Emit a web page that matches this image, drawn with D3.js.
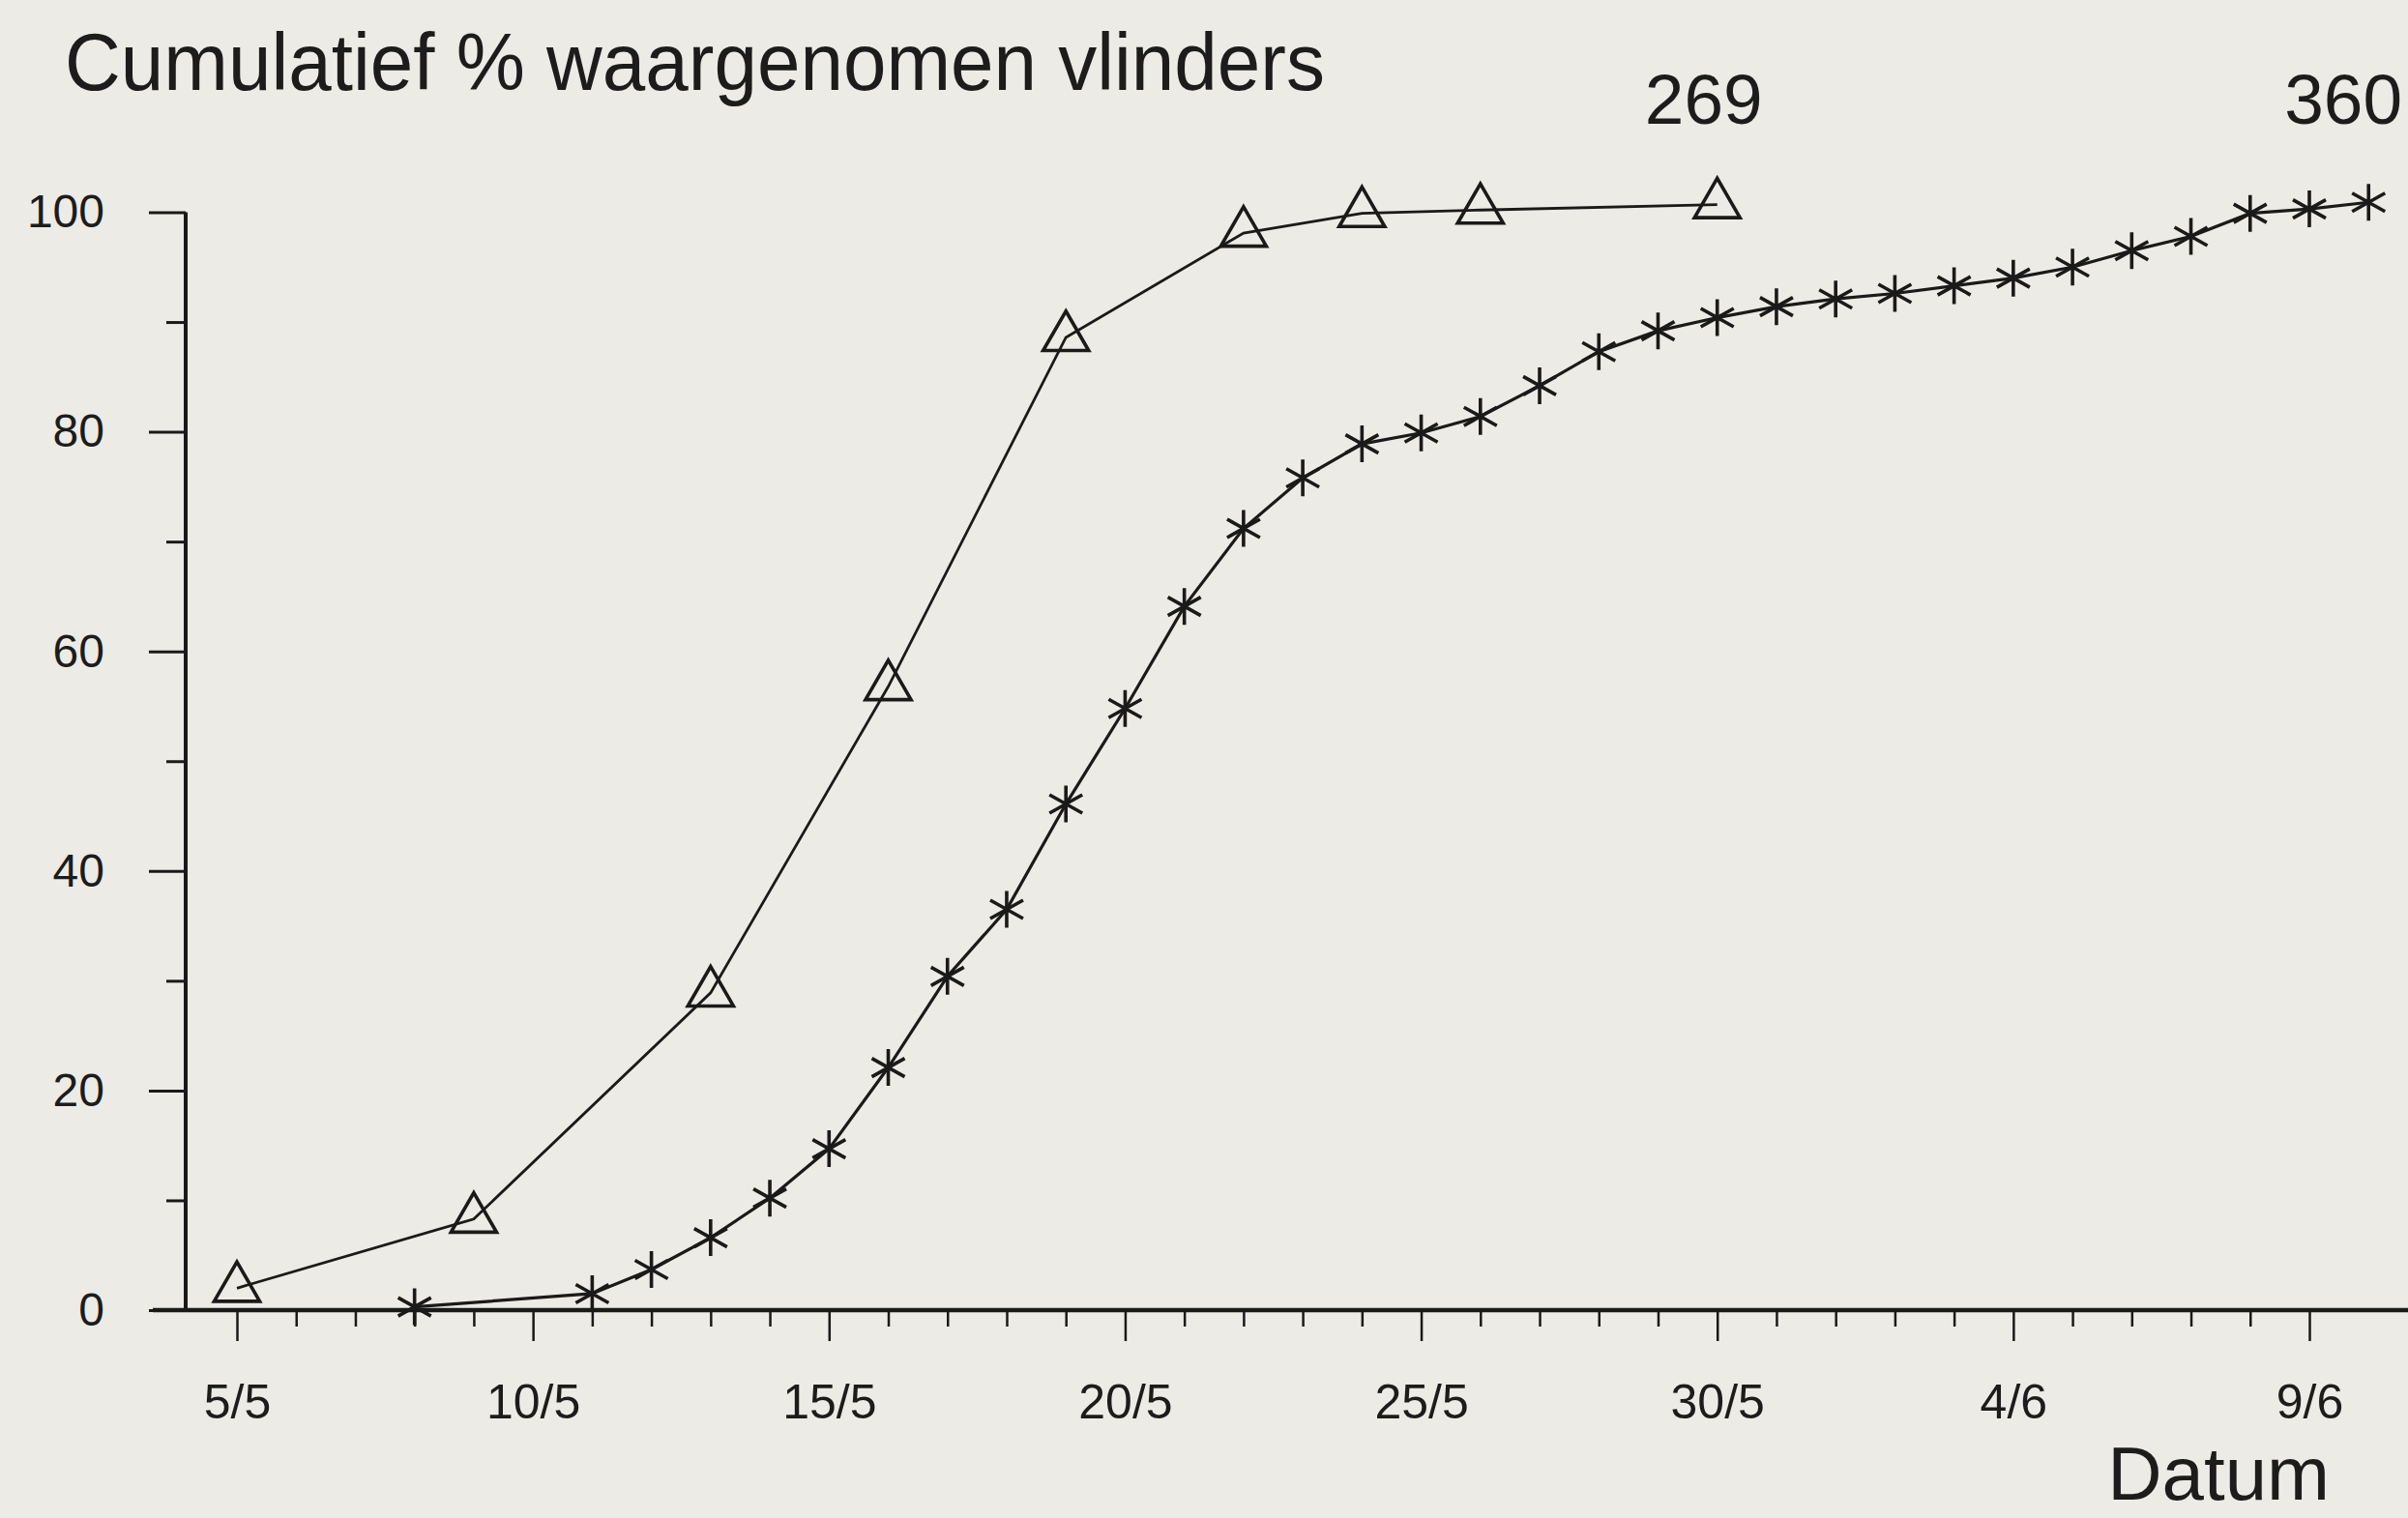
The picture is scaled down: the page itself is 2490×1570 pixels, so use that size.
<!DOCTYPE html>
<html>
<head>
<meta charset="utf-8">
<script src="https://cdn.jsdelivr.net/npm/d3@7"></script>
<style>
  html, body { margin: 0; padding: 0; background: #ecebe5; }
  svg { display: block; }
  text { font-family: "Liberation Sans", Arial, Helvetica, sans-serif; fill: #1c1c1c; }
</style>
</head>
<body>
<svg id="chart" width="2490" height="1570"></svg>
<script>
// ---- data ----
const titleText = "Cumulatief % waargenomen vlinders";
const xAxisTitle = "Datum";
const xTickDays = [5, 10, 15, 20, 25, 30, 35, 40];
const xTickLabels = ["5/5", "10/5", "15/5", "20/5", "25/5", "30/5", "4/6", "9/6"];
const yTickValues = [0, 20, 40, 60, 80, 100];

// series A (triangles), total 269
const triDays   = [5, 9, 13, 16, 19, 22, 24, 26, 30];
const triValues = [2.0, 8.3, 28.9, 56.8, 88.6, 98.1, 99.9, 100.2, 100.7];
const triTotal = 269;

// series B (asterisks), total 360 (day numbers counted from 1 May: 32 = 1/6)
const starDays   = [8, 11, 12, 13, 14, 15, 16, 17, 18, 19, 20, 21, 22, 23, 24, 25, 26, 27, 28, 29, 30, 31, 32, 33, 34, 35, 36, 37, 38, 39, 40, 41];
const starValues = [0.3, 1.5, 3.7, 6.6, 10.2, 14.7, 22.1, 30.4, 36.5, 46.1, 54.8, 64.1, 71.2, 75.8, 78.9, 79.9, 81.4, 84.2, 87.3, 89.2, 90.4, 91.4, 92.1, 92.6, 93.3, 94.0, 95.0, 96.5, 97.8, 99.9, 100.3, 100.9];
const starTotal = 360;

// ---- layout ----
const W = 2490, H = 1570;
const svg = d3.select("#chart");
const ink = "#1a1a1a";

const x = d3.scaleLinear().domain([5, 40]).range([245, 2388]);
const y = d3.scaleLinear().domain([0, 100]).range([1355, 219.5]);
const yAxisX = 192;

// title
svg.append("text")
  .attr("x", 67).attr("y", 93)
  .attr("font-size", 84)
  .attr("textLength", 1303).attr("lengthAdjust", "spacingAndGlyphs")
  .text(titleText);

// y axis (major + minor ticks)
const gy = svg.append("g").attr("transform", `translate(${yAxisX},0)`);
gy.call(d3.axisLeft(y).tickValues(yTickValues).tickSize(38).tickPadding(46).tickFormat(d3.format("d")));
gy.append("g").call(d3.axisLeft(y).tickValues(d3.range(10, 100, 20)).tickSize(20).tickFormat(""));
gy.selectAll(".domain").remove();
gy.selectAll("line").attr("stroke", ink).attr("stroke-width", 3);
gy.selectAll("text").attr("font-size", 48).attr("fill", ink).attr("font-family", "Liberation Sans, Arial, sans-serif");
gy.append("line")
  .attr("x1", 0).attr("x2", 0)
  .attr("y1", y(0)).attr("y2", y(100))
  .attr("stroke", ink).attr("stroke-width", 4);

// x axis
const gx = svg.append("g").attr("transform", `translate(0,${y(0)})`);
gx.call(d3.axisBottom(x).tickValues(xTickDays).tickSize(32).tickPadding(44)
  .tickFormat((d, i) => xTickLabels[i]));
gx.append("g").call(d3.axisBottom(x).tickValues(d3.range(5, 41).filter(d => d % 5 !== 0)).tickSize(17).tickFormat(""));
gx.selectAll(".domain").remove();
gx.selectAll("line").attr("stroke", ink).attr("stroke-width", 2.5);
gx.selectAll("text").attr("font-size", 50).attr("fill", ink).attr("font-family", "Liberation Sans, Arial, sans-serif");
gx.append("line")
  .attr("x1", x(3.58)).attr("x2", W)
  .attr("y1", 0).attr("y2", 0)
  .attr("stroke", ink).attr("stroke-width", 4.5);

// x axis title
svg.append("text")
  .attr("x", 2409).attr("y", 1551)
  .attr("text-anchor", "end")
  .attr("font-size", 78)
  .text(xAxisTitle);

// lines
const line = d3.line().x(d => x(d[0])).y(d => y(d[1]));
const triData = triDays.map((d, i) => [d, triValues[i]]);
const starData = starDays.map((d, i) => [d, starValues[i]]);

svg.append("path").datum(triData).attr("d", line)
  .attr("fill", "none").attr("stroke", ink).attr("stroke-width", 2.8);
svg.append("path").datum(starData).attr("d", line)
  .attr("fill", "none").attr("stroke", ink).attr("stroke-width", 3.2);

// triangle markers
const tri = d3.symbol().type(d3.symbolTriangle).size(960);
svg.append("g").selectAll("path").data(triData).join("path")
  .attr("d", tri)
  .attr("transform", d => `translate(${x(d[0])},${y(d[1])})`)
  .attr("fill", "none").attr("stroke", ink).attr("stroke-width", 3.6);

// asterisk markers
const starPath = "M0,-19L0,19M-17,-9.5L17,9.5M-17,9.5L17,-9.5";
svg.append("g").selectAll("path").data(starData).join("path")
  .attr("d", starPath)
  .attr("transform", d => `translate(${x(d[0])},${y(d[1])})`)
  .attr("fill", "none").attr("stroke", ink).attr("stroke-width", 3.6);

// totals
svg.append("text")
  .attr("x", x(triDays[triDays.length - 1]) - 14).attr("y", 128)
  .attr("text-anchor", "middle").attr("font-size", 73)
  .text(triTotal);
svg.append("text")
  .attr("x", W - 6).attr("y", 128)
  .attr("text-anchor", "end").attr("font-size", 73)
  .text(starTotal);
</script>
</body>
</html>
